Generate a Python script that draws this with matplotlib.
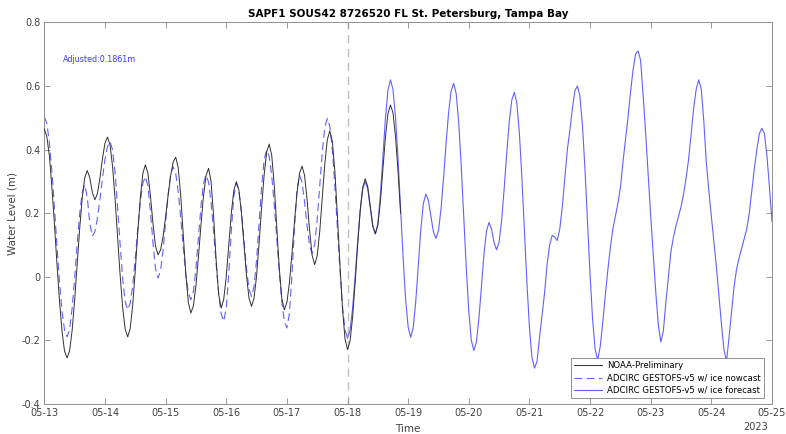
import matplotlib
matplotlib.use("Agg")
import matplotlib.pyplot as plt
import matplotlib.dates as mdates
import numpy as np
import pandas as pd

# hourly water levels (m), starting 2023-05-13 00:00
start = pd.Timestamp("2023-05-13 00:00")

noaa = [
    0.465, 0.44, 0.38, 0.281, 0.165, 0.040, -0.076, -0.171, -0.234, -0.255,
    -0.233, -0.169, -0.073, 0.040, 0.152, 0.248, 0.312, 0.334, 0.311, 0.265,
    0.242, 0.261, 0.310, 0.371, 0.420, 0.439, 0.415, 0.347, 0.245, 0.125,
    0.005, -0.097, -0.165, -0.189, -0.162, -0.087, 0.021, 0.142, 0.250, 0.325,
    0.352, 0.325, 0.254, 0.167, 0.096, 0.069, 0.084, 0.127, 0.188, 0.257,
    0.318, 0.361, 0.376, 0.343, 0.253, 0.131, 0.008, -0.081, -0.114, -0.091,
    -0.028, 0.063, 0.164, 0.255, 0.318, 0.341, 0.299, 0.190, 0.053, -0.056,
    -0.098, -0.071, 0.001, 0.101, 0.200, 0.272, 0.299, 0.273, 0.201, 0.103,
    0.005, -0.067, -0.093, -0.067, 0.003, 0.105, 0.219, 0.321, 0.392, 0.417,
    0.382, 0.287, 0.156, 0.026, -0.069, -0.104, -0.081, -0.019, 0.072, 0.172,
    0.263, 0.325, 0.348, 0.319, 0.241, 0.145, 0.067, 0.038, 0.066, 0.143,
    0.249, 0.354, 0.431, 0.459, 0.425, 0.330, 0.191, 0.039, -0.100, -0.195,
    -0.229, -0.202, -0.128, -0.020, 0.099, 0.207, 0.281, 0.308, 0.283, 0.222,
    0.160, 0.135, 0.162, 0.236, 0.338, 0.439, 0.513, 0.540, 0.515, 0.44,
    0.33, 0.20,
]

nowcast = [
    0.503, 0.482, 0.422, 0.330, 0.217, 0.097, -0.016, -0.108, -0.168, -0.189,
    -0.165, -0.099, -0.003, 0.103, 0.199, 0.265, 0.289, 0.249, 0.168, 0.127,
    0.142, 0.183, 0.243, 0.309, 0.369, 0.410, 0.425, 0.399, 0.326, 0.219,
    0.102, -0.005, -0.078, -0.104, -0.083, -0.025, 0.059, 0.152, 0.236, 0.294,
    0.315, 0.285, 0.205, 0.106, 0.026, -0.004, 0.019, 0.084, 0.171, 0.259,
    0.323, 0.346, 0.325, 0.267, 0.183, 0.091, 0.007, -0.051, -0.072, -0.046,
    0.026, 0.124, 0.222, 0.294, 0.320, 0.297, 0.234, 0.141, 0.039, -0.054,
    -0.117, -0.140, -0.099, 0.010, 0.145, 0.254, 0.295, 0.271, 0.206, 0.117,
    0.027, -0.038, -0.062, -0.031, 0.053, 0.169, 0.284, 0.368, 0.399, 0.378,
    0.317, 0.226, 0.119, 0.012, -0.079, -0.140, -0.161, -0.115, 0.005, 0.154,
    0.274, 0.320, 0.297, 0.235, 0.159, 0.097, 0.074, 0.102, 0.180, 0.286,
    0.392, 0.470, 0.498, 0.472, 0.397, 0.284, 0.153, 0.021, -0.092, -0.167,
    -0.193,
]

# forecast starts 2023-05-18 00:00
forecast = [
    -0.193, -0.168, -0.100, -0.001, 0.108, 0.207, 0.275, 0.300, 0.276, 0.218,
    0.159, 0.135, 0.167, 0.256, 0.377, 0.498, 0.587, 0.619, 0.588, 0.501,
    0.369, 0.215, 0.060, -0.072, -0.159, -0.190, -0.160, -0.078, 0.035, 0.148,
    0.230, 0.260, 0.240, 0.191, 0.141, 0.121, 0.145, 0.213, 0.310, 0.419,
    0.516, 0.584, 0.608, 0.576, 0.485, 0.348, 0.188, 0.028, -0.109, -0.200,
    -0.232, -0.205, -0.131, -0.031, 0.070, 0.144, 0.171, 0.150, 0.107, 0.085,
    0.110, 0.178, 0.278, 0.387, 0.487, 0.555, 0.580, 0.547, 0.453, 0.312,
    0.147, -0.019, -0.160, -0.254, -0.287, -0.266, -0.19, -0.12, -0.05, 0.04,
    0.10, 0.13, 0.125, 0.114, 0.15, 0.22, 0.31, 0.40, 0.46, 0.53,
    0.585, 0.600, 0.567, 0.474, 0.334, 0.170, 0.005, -0.135, -0.228, -0.261,
    -0.22, -0.145, -0.06, 0.02, 0.09, 0.15, 0.19, 0.23, 0.28, 0.36,
    0.43, 0.50, 0.58, 0.65, 0.70, 0.71, 0.68, 0.57, 0.45, 0.32,
    0.19, 0.07, -0.05, -0.15, -0.205, -0.17, -0.08, 0.00, 0.08, 0.125,
    0.16, 0.19, 0.22, 0.26, 0.31, 0.37, 0.45, 0.53, 0.59, 0.619,
    0.59, 0.49, 0.36, 0.27, 0.19, 0.11, 0.03, -0.06, -0.15, -0.23,
    -0.265, -0.19, -0.11, -0.03, 0.025, 0.06, 0.09, 0.12, 0.15, 0.20,
    0.27, 0.34, 0.40, 0.45, 0.467, 0.45, 0.38, 0.28, 0.174,
]
forecast_start = pd.Timestamp("2023-05-18 00:00")
nowcast_end = pd.Timestamp("2023-05-18 00:00")

t_noaa = pd.date_range(start, periods=len(noaa), freq="h")
t_now = pd.date_range(start, periods=len(nowcast), freq="h")
t_fc = pd.date_range(forecast_start, periods=len(forecast), freq="h")

fig = plt.figure(figsize=(7.86, 4.34), dpi=100)
ax = fig.add_axes([0.0564, 0.0691, 0.9258, 0.8795])

ax.plot(t_noaa, noaa, color="#303030", lw=0.7, label="NOAA-Preliminary", zorder=3)
ax.plot(t_now, nowcast, color="#4545ff", lw=0.8, ls=(0, (7, 4)), alpha=0.85,
        label="ADCIRC GESTOFS-v5 w/ ice nowcast", zorder=2)
ax.plot(t_fc, forecast, color="#5050ff", lw=0.8, alpha=0.9,
        label="ADCIRC GESTOFS-v5 w/ ice forecast", zorder=2)

ax.axvline(nowcast_end, color="#c0c0c0", lw=1.0, ls=(0, (6, 4)), zorder=1)

ax.set_xlim(pd.Timestamp("2023-05-13"), pd.Timestamp("2023-05-25"))
ax.set_ylim(-0.4, 0.8)
ax.set_yticks([-0.4, -0.2, 0, 0.2, 0.4, 0.6, 0.8])
ax.set_yticklabels(["-0.4", "-0.2", "0", "0.2", "0.4", "0.6", "0.8"])
ax.xaxis.set_major_locator(mdates.DayLocator())
ax.xaxis.set_major_formatter(mdates.DateFormatter("%m-%d"))

ax.tick_params(direction="in", length=4, width=0.6, colors="#888888",
               labelcolor="#404040", labelsize=7, top=True, right=True, pad=3)
for sp in ax.spines.values():
    sp.set_color("#909090")
    sp.set_linewidth(0.7)

ax.set_title("SAPF1 SOUS42 8726520 FL St. Petersburg, Tampa Bay",
             fontsize=7.5, fontweight="bold", pad=4)
ax.set_ylabel("Water Level (m)", fontsize=7.5, color="#404040", labelpad=3)
ax.set_xlabel("Time", fontsize=7.5, color="#404040", labelpad=4)
ax.text(0.995, -0.047, "2023", transform=ax.transAxes, ha="right", va="top",
        fontsize=7, color="#404040")

ax.text(pd.Timestamp("2023-05-13 07:20"), 0.684, "Adjusted:0.1861m",
        color="#3a3aff", fontsize=5.8, va="center")

leg = ax.legend(loc="lower right", fontsize=6.1, frameon=True, fancybox=False,
                edgecolor="#909090", framealpha=1.0, handlelength=3.3,
                borderpad=0.35, labelspacing=0.4, handletextpad=0.6,
                borderaxespad=0.0, bbox_to_anchor=(0.989, 0.016))
leg.get_frame().set_linewidth(0.7)

fig.savefig("out.png", dpi=100)
